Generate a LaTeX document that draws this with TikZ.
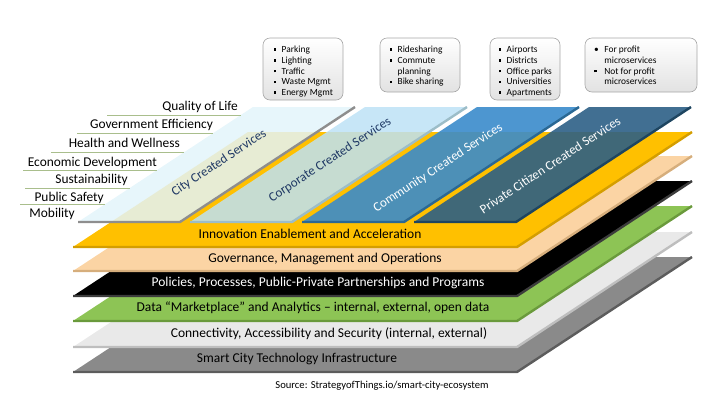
\documentclass[tikz,border=0pt]{standalone}
\usepackage{fontspec}
\setmainfont{Carlito}
\definecolor{yellowC}{HTML}{FFC000}
\definecolor{yellowB}{HTML}{D49E00}
\definecolor{peachC}{HTML}{FBD4A4}
\definecolor{peachB}{HTML}{D6AE7C}
\definecolor{blackB}{HTML}{3C3C3C}
\definecolor{greenC}{HTML}{8DC455}
\definecolor{greenB}{HTML}{6A9A3C}
\definecolor{lightC}{HTML}{E9E9E9}
\definecolor{lightB}{HTML}{BEBEBE}
\definecolor{grayC}{HTML}{8A8A8A}
\definecolor{grayB}{HTML}{5C5C5C}
\definecolor{cityC}{HTML}{E3F4FA}
\definecolor{cityB}{HTML}{8E8E8E}
\definecolor{corpC}{HTML}{BDE2F6}
\definecolor{corpB}{HTML}{9CBDC8}
\definecolor{commC}{HTML}{3A8BCB}
\definecolor{commB}{HTML}{2A6894}
\definecolor{privC}{HTML}{2C5F86}
\definecolor{privB}{HTML}{1E4560}
\definecolor{navyC}{HTML}{1F3864}
\definecolor{goalC}{HTML}{A9BE8C}
\definecolor{boxC}{HTML}{A6A6A6}
\definecolor{boxfillC}{HTML}{E2E2E2}
\newcommand{\sqb}{\rule[1.7pt]{2.5pt}{2.5pt}}

\begin{document}
\begin{tikzpicture}[x=1pt, y=-1pt,
  bevel/.style={line width=2.4pt, line join=round},
  layerlabel/.style={font=\fontsize{13.5}{15}\selectfont, inner sep=1pt},
  striplabel/.style={font=\fontsize{13}{15}\selectfont, rotate=33.3, inner sep=1pt},
  goal/.style={font=\fontsize{13.4}{15}\selectfont, inner sep=0pt, anchor=base east},
  goalline/.style={draw=goalC, line width=0.9pt},
  callout/.style={draw=boxC, line width=0.6pt, rounded corners=7pt, top color=white,
    bottom color=boxfillC},
  listtext/.style={anchor=north west, inner sep=0pt, align=left,
    font=\fontsize{9.4}{10.7}\selectfont}]
  \useasboundingbox (0,0) rectangle (720,405);

  % ---- base layers, lowest first ----
  \fill[grayC] (73,372) -- (517,372) -- (692,257) -- (248,257) -- cycle;
  \draw[bevel, grayB] (73,372) -- (517,372) -- (692,257);
  \node[layerlabel] (infra) at (297,359) {Smart City Technology Infrastructure};

  \fill[lightC] (73,347) -- (517,347) -- (692,232) -- (248,232) -- cycle;
  \draw[bevel, lightB] (73,347) -- (517,347) -- (692,232);
  \node[layerlabel] (connect) at (329,334) {Connectivity, Accessibility and Security (internal, external)};

  \fill[greenC] (73,321) -- (517,321) -- (692,206) -- (248,206) -- cycle;
  \draw[bevel, greenB] (73,321) -- (517,321) -- (692,206);
  \node[layerlabel] (data) at (313,308) {Data “Marketplace” and Analytics – internal, external, open data};

  \fill[black] (73,296) -- (517,296) -- (692,181) -- (248,181) -- cycle;
  \draw[bevel, blackB] (73,296) -- (517,296) -- (692,181);
  \node[layerlabel, white] (policies) at (318,283) {Policies, Processes, Public-Private Partnerships and Programs};

  \fill[peachC] (73,271) -- (517,271) -- (692,156) -- (248,156) -- cycle;
  \draw[bevel, peachB] (73,271) -- (517,271) -- (692,156);
  \node[layerlabel] (govern) at (325,259) {Governance, Management and Operations};

  \fill[yellowC] (73,247) -- (517,247) -- (692,132) -- (248,132) -- cycle;
  \draw[bevel, yellowB] (73,247) -- (517,247) -- (692,132);
  \node[layerlabel] (innov) at (310,234) {Innovation Enablement and Acceleration};

  % ---- service strips on top ----
  \fill[cityC, fill opacity=0.85] (78,222) -- (180,222) -- (355,107) -- (253,107) -- cycle;
  \draw[bevel, cityB] (78,222) -- (180,222) -- (355,107);
  \node[striplabel, navyC] (city) at (219,163) {City Created Services};

  \fill[corpC, fill opacity=0.85] (190,222) -- (292,222) -- (467,107) -- (365,107) -- cycle;
  \draw[bevel, corpB] (190,222) -- (292,222) -- (467,107);
  \node[striplabel, navyC] (corp) at (330,160) {Corporate Created Services};

  \fill[commC, fill opacity=0.9] (302,222) -- (404,222) -- (579,107) -- (477,107) -- cycle;
  \draw[bevel, commB] (302,222) -- (404,222) -- (579,107);
  \node[striplabel, white] (community) at (438,168) {Community Created Services};

  \fill[privC, fill opacity=0.9] (414,222) -- (516,222) -- (691,107) -- (589,107) -- cycle;
  \draw[bevel, privB] (414,222) -- (516,222) -- (691,107);
  \node[striplabel, white] (citizen) at (550,165) {Private Citizen Created Services};

  % ---- goals on the left ----
  \draw[goalline] (107,115) -- (241,115);
  \draw[goalline] (77,133) -- (213,133);
  \draw[goalline] (51,152) -- (184,152);
  \draw[goalline] (23,170) -- (157,170);
  \draw[goalline] (25,188) -- (130,188);
  \draw[goalline] (20,204) -- (105,204);
  \node[goal] (quality) at (238,110.5) {Quality of Life};
  \node[goal] (efficiency) at (213,128.5) {Government Efficiency};
  \node[goal] (health) at (180,147.5) {Health and Wellness};
  \node[goal] (economy) at (157,166.5) {Economic Development};
  \node[goal] (sustain) at (128,183.5) {Sustainability};
  \node[goal] (safety) at (104,201.5) {Public Safety};
  \node[goal] (mobility) at (75,217.5) {Mobility};

  % ---- callouts ----
  \node[callout, minimum width=80pt, minimum height=62pt] (cityBox) at (303,69) {};
  \node[callout, minimum width=80pt, minimum height=54pt] (corpBox) at (420,65) {};
  \node[callout, minimum width=70pt, minimum height=62pt] (commBox) at (525,69) {};
  \node[callout, minimum width=112pt, minimum height=54pt] (citizenBox) at (641,65) {};
  \node[listtext] (cityList) at (273.5,45) {\begin{tabular}{@{}l@{\hspace{5.5pt}}l@{}}
      \sqb & Parking\\ \sqb & Lighting\\ \sqb & Traffic\\ \sqb & Waste Mgmt\\ \sqb & Energy Mgmt
    \end{tabular}};
  \node[listtext] (corpList) at (389.5,45) {\begin{tabular}{@{}l@{\hspace{5.5pt}}l@{}}
      \sqb & Ridesharing\\ \sqb & Commute\\ & planning\\ \sqb & Bike sharing
    \end{tabular}};
  \node[listtext] (commList) at (498.5,45) {\begin{tabular}{@{}l@{\hspace{5.5pt}}l@{}}
      \sqb & Airports\\ \sqb & Districts\\ \sqb & Office parks\\ \sqb & Universities\\ \sqb & Apartments
    \end{tabular}};
  \node[listtext] (citizenList) at (594,45) {\begin{tabular}{@{}l@{\hspace{5.5pt}}l@{}}
      \textbullet & For profit\\ & microservices\\ \sqb & Not for profit\\ & microservices
    \end{tabular}};

  \node[font=\fontsize{10.6}{12}\selectfont] (source) at (382,386)
    {Source: StrategyofThings.io/smart-city-ecosystem};
\end{tikzpicture}
\end{document}
